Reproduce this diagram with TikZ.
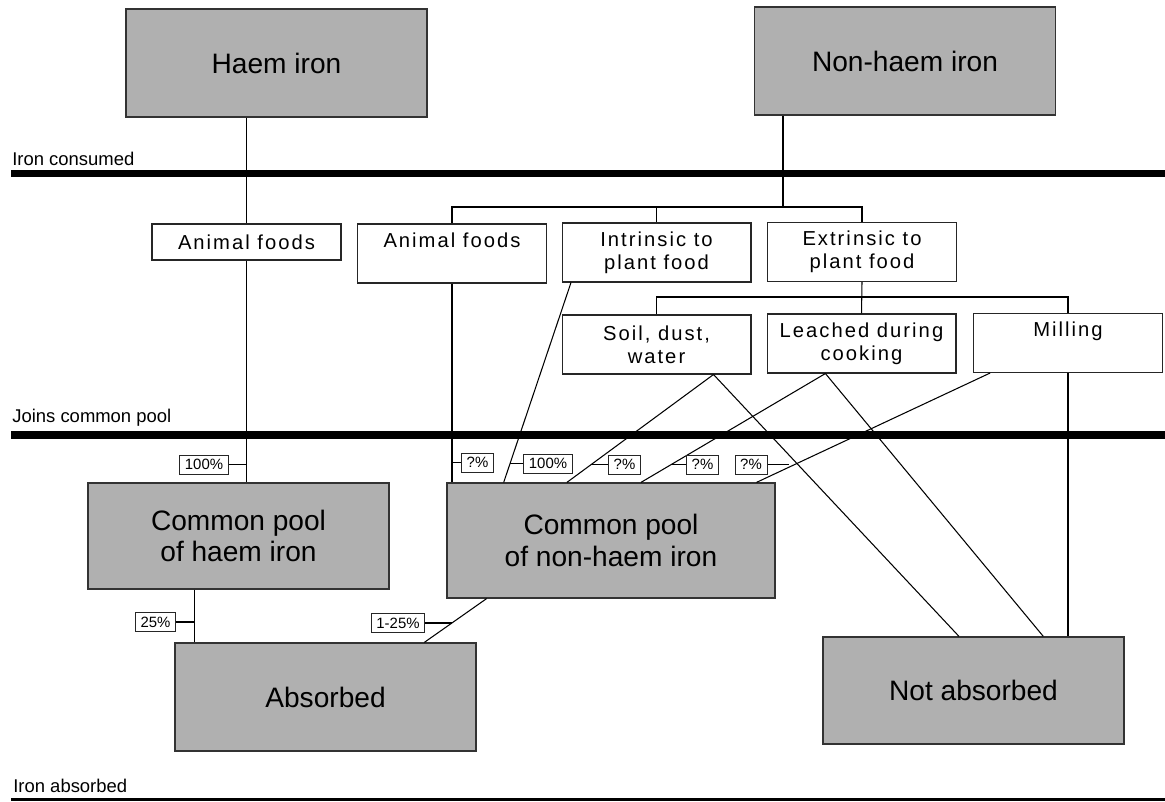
\documentclass[tikz,border=0pt]{standalone}
\usepackage{fontspec}
\setmainfont{Liberation Sans}
\newfontfamily\boxfont[LetterSpace=10]{Liberation Sans}
\usetikzlibrary{calc}
\definecolor{poolgray}{RGB}{176,176,176}
\tikzset{
    bigbox/.style={draw=black!80, fill=poolgray, line width=0.7pt, inner sep=0pt,
        minimum width=6.02cm, minimum height=2.16cm, align=center,
        font=\fontsize{16}{18}\selectfont},
    smallbox/.style={draw=black!85, fill=white, line width=0.6pt, inner sep=0pt,
        minimum width=3.78cm, minimum height=1.18cm, align=center,
        font=\boxfont\fontsize{11.5}{13}\selectfont},
    pctbox/.style={draw=black!85, fill=white, line width=0.5pt, inner ysep=0pt,
        inner xsep=3pt, minimum height=0.38cm, font=\fontsize{8.5}{9}\selectfont},
    stage/.style={anchor=base west, inner sep=0pt, font=\fontsize{10.5}{12}\selectfont},
    tierline/.style={line width=4pt},
    wire/.style={line width=0.6pt}
}
\begin{document}
\begin{tikzpicture}[x=0.02cm, y=-0.02cm]
                    \useasboundingbox (0,0) rectangle (1165,801);
                    \node[bigbox] (HI) at (276.5,63) {Haem iron};
                    \node[bigbox] (NH) at (905,61) {Non-haem iron};
                    \node[smallbox, minimum height=0.72cm] (AF1) at (246.5,242) {Animal foods};
                    \node[smallbox] (AF2) at (452,253.5) {Animal foods\\\phantom{p}};
                    \node[smallbox] (IN) at (656.5,252.5) {Intrinsic to\\plant food};
                    \node[smallbox] (EX) at (862,252) {Extrinsic to\\plant food};
                    \node[smallbox] (SD) at (656.5,344.5) {Soil, dust,\\water};
                    \node[smallbox] (LC) at (861.5,343.5) {Leached during\\cooking};
                    \node[smallbox] (ML) at (1068,343) {Milling\\\phantom{p}};
                    \node[bigbox, minimum height=2.12cm] (PH) at (238.5,536) {Common pool\\of haem iron};
                    \node[bigbox, minimum width=6.56cm, minimum height=2.3cm] (PN) at (611,540.5) {Common pool\\of non-haem iron};
                    \node[bigbox] (AB) at (325.5,697) {Absorbed};
                    \node[bigbox, minimum height=2.14cm] (NA) at (973.5,690.5) {Not absorbed};
                    \node[stage] (T1) at (12,165) {Iron consumed};
                    \node[stage] (T2) at (12,422) {Joins common pool};
                    \node[stage] (T3) at (13,792) {Iron absorbed};
                    \draw[tierline] (11,173.5) -- (1165,173.5);
                    \draw[tierline] (11,435) -- (1165,435);
                    \draw[line width=1.7pt] (11,799) -- (1165,799);
                    \coordinate (br1) at (783,207);
                    \coordinate (br2) at (862,297);
                    \coordinate (ph1) at ($(PH.south west)!.355!(PH.south east)$);
                    \coordinate (sd1) at ($(SD.south west)!.8!(SD.south east)$);
                    \coordinate (lc1) at ($(LC.south west)!.31!(LC.south east)$);
                    \draw[wire] (HI.south -| AF1.north) -- (AF1.north);
                    \draw[wire] (AF1.south) -- (AF1.south |- PH.north);
                    \draw[wire] (ph1) -- (ph1 |- AB.north);
                    \draw[wire] (NH.south -| br1) -- (br1);
                    \draw[wire] (AF2.north) |- (br1) -| (EX.north);
                    \draw[wire] (IN.north) -- (IN.north |- br1);
                    \draw[wire] (EX.south) -- (LC.north);
                    \draw[wire] (SD.north) |- (br2) -| (ML.north);
                    \draw[wire] (AF2.south) -- (AF2.south |- PN.north);
                    \draw[wire] ($(IN.south west)!.05!(IN.south east)$) -- coordinate[pos=.9] (k2) ($(PN.north west)!.174!(PN.north east)$);
                    \draw[wire] (sd1) -- coordinate[pos=.83] (k3) ($(PN.north west)!.366!(PN.north east)$);
                    \draw[wire] (sd1) -- ($(NA.north west)!.452!(NA.north east)$);
                    \draw[wire] (lc1) -- coordinate[pos=.832] (k4) ($(PN.north west)!.591!(PN.north east)$);
                    \draw[wire] (lc1) -- ($(NA.north west)!.731!(NA.north east)$);
                    \draw[wire] ($(ML.south west)!.09!(ML.south east)$) -- coordinate[pos=.86] (k5) ($(PN.north west)!.942!(PN.north east)$);
                    \draw[wire] (ML.south) -- (ML.south |- NA.north);
                    \draw[wire] ($(PN.south west)!.122!(PN.south east)$) -- coordinate[pos=.556] (k6) ($(AB.north west)!.827!(AB.north east)$);
                    \node[pctbox] (P1) at (204,464.5) {100\%};
                    \node[pctbox] (P2) at (477.5,462.5) {?\%};
                    \node[pctbox] (P3) at (548,463.5) {100\%};
                    \node[pctbox] (P4) at (624.5,464.5) {?\%};
                    \node[pctbox] (P5) at (702.5,464.5) {?\%};
                    \node[pctbox] (P6) at (751,464.5) {?\%};
                    \node[pctbox] (P7) at (155.5,622) {25\%};
                    \node[pctbox] (P8) at (398,623) {1-25\%};
                    \draw[wire] (P1.east) -- (P1.east -| AF1.south);
                    \draw[wire] (P2.west) -- (P2.west -| AF2.south);
                    \draw[wire] (P3.west) -- (P3.west -| k2);
                    \draw[wire] (P4.west) -- (P4.west -| k3);
                    \draw[wire] (P5.west) -- (P5.west -| k4);
                    \draw[wire] (P6.east) -- (P6.east -| k5);
                    \draw[wire] (P7.east) -- (P7.east -| ph1);
                    \draw[wire] (P8.east) -- (P8.east -| k6);
\end{tikzpicture}
\end{document}
